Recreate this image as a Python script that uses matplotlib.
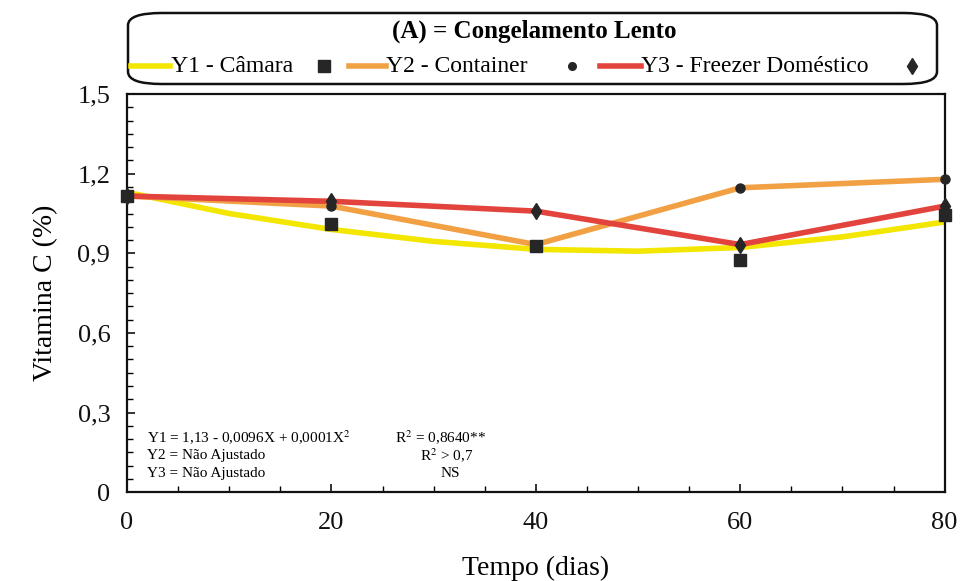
import matplotlib
matplotlib.use("Agg")
import matplotlib.pyplot as plt
from matplotlib.patches import FancyBboxPatch
from matplotlib.lines import Line2D
from matplotlib.ticker import MultipleLocator

plt.rcParams['font.family'] = ['Liberation Serif', 'DejaVu Serif']
plt.rcParams['mathtext.fontset'] = 'stix'

# Data
dias = [0, 20, 40, 60, 80]
y1_obs = [1.116, 1.009, 0.927, 0.876, 1.046]          # Câmara (squares)
y2_obs = [1.116, 1.078, 0.933, 1.147, 1.179]          # Container (circles)
y3_obs = [1.116, 1.096, 1.059, 0.933, 1.078]          # Freezer doméstico (diamonds)
y1_fit_x = [0, 10, 20, 30, 40, 50, 60, 70, 80]
y1_fit_y = [1.13, 1.05, 0.99, 0.945, 0.915, 0.908, 0.922, 0.962, 1.018]
xticks = [0, 20, 40, 60, 80]
yticks = [0, 0.3, 0.6, 0.9, 1.2, 1.5]
ytick_labels = ['0', '0,3', '0,6', '0,9', '1,2', '1,5']

c_yellow = '#f3e600'
c_orange = '#f2a044'
c_red = '#e2433c'
c_mark = '#262626'

fig = plt.figure(figsize=(9.62, 5.81), dpi=100)
ax = fig.add_axes([0.132, 0.153, 0.850, 0.685])

lw = 4.0
ax.plot(y1_fit_x, y1_fit_y, color=c_yellow, lw=lw, solid_capstyle='round', zorder=2)
ax.plot(dias, y2_obs, color=c_orange, lw=lw, zorder=3)
ax.plot(dias, y3_obs, color=c_red, lw=lw, zorder=4)
ax.plot(dias, y2_obs, 'o', color=c_mark, ms=6.5, zorder=5, clip_on=False)
ax.plot(dias, y3_obs, 'd', color=c_mark, ms=8, zorder=6, clip_on=False)
ax.plot(dias, y1_obs, 's', color=c_mark, ms=8, zorder=7, clip_on=False)

ax.set_xlim(0, 80)
ax.set_ylim(0, 1.5)
ax.set_xticks(xticks)
ax.set_xticklabels([str(v) for v in xticks])
ax.set_yticks(yticks)
ax.set_yticklabels(ytick_labels)
ax.xaxis.set_minor_locator(MultipleLocator(5))
ax.yaxis.set_minor_locator(MultipleLocator(0.05))
ax.tick_params(axis='both', which='major', direction='in', length=6, width=1.2,
               labelsize=19, colors='#111111')
ax.tick_params(axis='x', which='major', pad=14)
ax.tick_params(axis='y', which='major', pad=12)
ax.tick_params(axis='both', which='minor', direction='in', length=4, width=1.0)
ax.tick_params(top=False, right=False, which='both')
for s in ax.spines.values():
    s.set_linewidth(1.6)
    s.set_color('#111111')

ax.set_xlabel('Tempo (dias)', fontsize=20, labelpad=16)
ax.set_ylabel('Vitamina C (%)', fontsize=20, labelpad=14)

eq_fs = 11
ax.text(0.025, 0.135, 'Y1 = 1,13 - 0,0096X + 0,0001X$^2$', transform=ax.transAxes,
        fontsize=eq_fs, va='center')
ax.text(0.328, 0.135, 'R$^2$ = 0,8640**', transform=ax.transAxes, fontsize=eq_fs, va='center')
ax.text(0.025, 0.091, 'Y2 = Não Ajustado', transform=ax.transAxes, fontsize=eq_fs, va='center')
ax.text(0.358, 0.091, 'R$^2$ > 0,7', transform=ax.transAxes, fontsize=eq_fs, va='center')
ax.text(0.025, 0.047, 'Y3 = Não Ajustado', transform=ax.transAxes, fontsize=eq_fs, va='center')
ax.text(0.383, 0.047, 'NS', transform=ax.transAxes, fontsize=eq_fs, va='center')

# Legend box
W, H = 962.0, 581.0
def fx(px):
    return px / W
def fy(py):
    return 1 - py / H

box = FancyBboxPatch((fx(128), fy(84)), fx(937) - fx(128), fy(13) - fy(84),
                     boxstyle='round,pad=0,rounding_size=0.035',
                     transform=fig.transFigure, fill=False, lw=1.8, ec='#111111',
                     mutation_aspect=H / W)
fig.patches.append(box)

fig.text(fx(534), fy(31), '(A) = Congelamento Lento', fontsize=18, fontweight='bold',
         ha='center', va='center')

ly = fy(66)
entries = [
    (c_yellow, 'Y1 - Câmara', 's', 131, 170, 171, 324),
    (c_orange, 'Y2 - Container', 'o', 349, 386, 386, 572),
    (c_red, 'Y3 - Freezer Doméstico', 'd', 600, 641, 641, 912),
]
for col, lab, mk, lx0, lx1, tx, mx in entries:
    fig.add_artist(Line2D([fx(lx0), fx(lx1)], [ly, ly], transform=fig.transFigure,
                          color=col, lw=4))
    fig.text(fx(tx), ly, lab, fontsize=17, ha='left', va='center')
    fig.add_artist(Line2D([fx(mx)], [ly], transform=fig.transFigure, marker=mk,
                          color=c_mark, ms=8 if mk != 'o' else 5.5, lw=0))

fig.savefig('out.png', dpi=100)
